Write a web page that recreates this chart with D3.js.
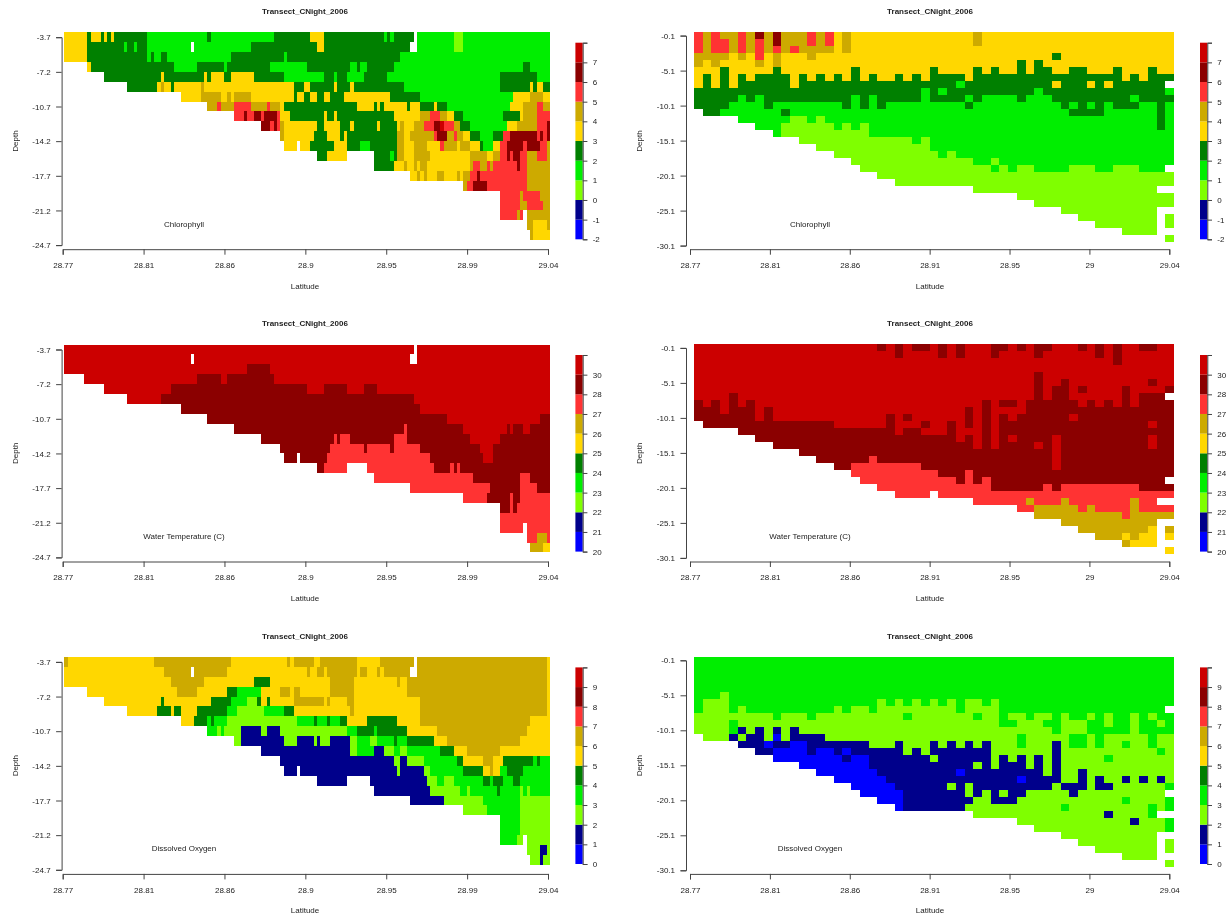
<!DOCTYPE html>
<html>
<head>
<meta charset="utf-8">
<script src="https://cdn.jsdelivr.net/npm/d3@7"></script>
<style>
body { margin: 0; background: #fff; }
svg { display: block; filter: blur(0.45px); }
text { font-family: "Liberation Sans", Arial, sans-serif; fill: #222; }
</style>
</head>
<body>
<svg id="canvas" width="1230" height="917"></svg>
<script>
// colour band index -> colour, same ten bands in all panels
let bandColors = ['#0000ff', '#00008b', '#7fff00', '#00ee00', '#008000', '#ffd700', '#cdaa00', '#ff3333', '#8b0000', '#cc0000']

let chlBreaks = ['-2', '-1', '0', '1', '2', '3', '4', '5', '6', '7', '']
let tempBreaks = ['20', '21', '22', '23', '24', '25', '26', '27', '28', '30', '']
let doBreaks = ['0', '1', '2', '3', '4', '5', '6', '7', '8', '9', '']

let latLabelsLeft = ['28.77', '28.81', '28.86', '28.9', '28.95', '28.99', '29.04']
let latLabelsRight = ['28.77', '28.81', '28.86', '28.91', '28.95', '29', '29.04']
let depthTicksLeft = [-3.7, -7.2, -10.7, -14.2, -17.7, -21.2, -24.7]
let depthTicksRight = [-0.1, -5.1, -10.1, -15.1, -20.1, -25.1, -30.1]

// each row = [startBin, band, nextBin, band, ..., endBin], band -1 is no data
// rows go down 1 m at a time from the top depth tick
let chlLeft = [
  [0,5,7,4,8,5,11,4,12,5,13,4,14,5,15,4,25,3,43,4,44,3,63,4,74,5,78,4,96,3,97,4,98,3,99,4,105,-1,106,3,117,2,120,3,146],
  [0,5,7,4,18,3,19,4,21,3,22,4,25,3,38,-1,39,3,56,4,76,5,78,4,104,-1,106,3,117,2,120,3,146],
  [0,5,7,4,25,3,26,4,27,3,29,4,31,3,50,4,66,3,67,4,101,3,146],
  [7,5,8,4,33,3,40,4,48,3,49,4,62,3,73,4,86,3,88,4,89,3,91,4,99,3,138,4,140,3,146],
  [12,4,29,5,30,4,42,5,43,4,44,5,48,4,50,5,57,4,66,3,78,4,81,3,82,4,85,3,90,4,97,3,131,4,142,3,146],
  [19,4,28,5,29,6,30,5,32,4,33,5,41,6,42,5,69,4,72,5,74,4,81,5,82,4,86,5,87,4,102,3,131,4,140,5,141,4,142,5,144,4,146],
  [35,5,41,6,47,5,49,6,50,5,51,6,56,5,69,4,70,5,72,4,74,5,76,4,78,5,80,4,84,5,98,4,107,3,135,5,140,6,144,5,146],
  [43,6,46,7,47,6,51,7,56,6,61,7,62,6,65,5,66,4,88,5,93,4,94,5,95,4,96,5,103,4,104,5,107,4,111,5,112,4,115,3,134,5,138,6,142,7,144,6,146],
  [51,7,54,8,55,7,57,8,59,7,60,8,64,7,65,5,68,4,78,5,79,4,81,5,82,4,99,5,107,6,110,7,113,6,115,5,117,4,120,3,132,4,137,5,138,6,142,7,146],
  [59,8,62,7,63,8,64,7,65,6,66,5,76,4,78,5,83,4,86,5,87,4,94,5,95,4,100,5,101,6,102,5,105,6,108,7,111,8,113,9,114,7,117,6,119,4,122,3,133,5,136,6,142,7,145,8,146],
  [65,6,66,5,75,4,79,5,83,4,84,5,85,4,100,6,102,5,104,6,111,7,112,8,115,6,117,7,118,6,120,5,122,4,125,3,129,4,132,7,134,8,142,7,143,8,144,7,145,8,146],
  [66,5,70,-1,71,5,74,4,81,5,85,4,89,3,92,4,100,6,102,5,105,6,109,5,113,7,114,6,118,5,119,6,122,5,125,4,126,3,129,5,131,7,133,8,138,7,139,8,143,7,145,6,146],
  [76,4,79,5,85,-1,93,4,98,3,99,4,100,6,102,5,105,6,110,5,122,6,127,5,129,6,131,7,133,8,134,7,135,8,137,7,139,6,142,7,145,6,146],
  [93,4,99,5,102,6,103,5,105,6,106,5,107,6,109,5,122,6,123,7,125,6,127,7,128,6,129,7,136,8,137,7,139,6,146],
  [104,5,106,6,107,5,108,6,109,5,112,6,114,5,118,6,119,5,120,6,122,7,124,8,125,7,139,6,146],
  [120,6,121,7,123,8,127,7,139,6,146],
  [131,7,137,6,138,7,143,6,146],
  [131,7,137,6,139,7,144,6,146],
  [131,7,136,6,137,7,138,-1,139,6,146],
  [139,6,141,5,145,6,146],
  [140,6,141,5,146]
]

let tempLeft = [
  [0,9,105,-1,106,9,146],
  [0,9,38,-1,39,9,104,-1,106,9,146],
  [0,9,55,8,62,9,146],
  [6,9,40,8,47,9,49,8,63,9,146],
  [12,9,32,8,73,9,78,8,85,9,90,8,94,9,146],
  [19,9,29,8,105,9,146],
  [35,8,107,9,146],
  [43,8,115,9,143,8,146],
  [51,8,102,7,103,8,120,9,133,8,134,9,135,8,138,9,140,8,146],
  [59,8,81,7,82,8,83,7,86,8,99,7,103,8,122,9,131,8,146],
  [65,8,80,7,90,8,91,7,98,8,99,7,107,8,125,9,129,8,146],
  [66,8,70,-1,71,8,79,7,110,8,126,9,129,8,146],
  [76,8,78,7,85,-1,91,7,111,8,116,7,117,8,118,7,119,8,146],
  [93,7,123,8,137,7,140,8,146],
  [104,7,128,8,137,7,142,8,146],
  [120,7,127,8,134,7,135,8,137,7,146],
  [131,8,134,7,135,8,136,7,146],
  [131,7,146],
  [131,7,138,-1,139,7,146],
  [139,7,142,6,145,7,146],
  [140,6,144,5,146]
]

let doLeft = [
  [0,6,1,5,27,6,50,5,67,6,68,5,69,6,75,5,77,6,88,5,95,6,105,-1,106,6,145,5,146],
  [0,5,30,6,38,-1,39,6,49,5,73,6,74,5,76,6,78,5,79,6,88,5,89,6,91,5,94,6,95,5,96,6,104,-1,106,6,145,5,146],
  [0,5,32,6,42,5,57,4,62,5,80,6,87,5,100,6,101,5,103,6,145,5,146],
  [7,5,34,6,40,5,49,4,52,3,59,5,65,6,68,5,69,6,71,5,80,6,87,5,103,6,145,5,146],
  [12,5,29,4,30,5,44,4,50,3,55,2,58,4,59,5,61,4,62,5,69,6,78,5,79,6,80,5,85,6,87,5,107,6,145,5,146],
  [19,5,28,4,32,5,33,4,35,5,40,4,49,3,52,2,60,3,66,4,69,5,86,6,87,5,107,6,145,5,146],
  [35,5,39,4,43,3,44,4,45,3,49,2,70,3,75,4,76,3,79,4,80,3,83,4,85,5,91,4,100,5,107,6,140,5,146],
  [43,3,46,2,47,3,48,2,53,1,59,2,61,1,65,2,85,3,88,4,93,3,94,4,103,5,112,6,139,5,146],
  [51,2,53,1,66,2,70,1,75,2,76,1,77,2,80,1,86,2,88,3,92,2,94,3,99,4,100,3,103,4,111,5,115,6,137,5,146],
  [59,1,86,2,88,3,93,1,96,2,99,3,101,2,103,3,113,4,117,5,121,6,131,5,146],
  [65,1,99,2,101,1,103,2,108,3,118,4,120,5,126,6,129,5,132,4,141,3,142,4,143,3,146],
  [66,1,70,-1,71,1,100,2,101,1,108,2,110,3,120,4,126,5,128,6,129,5,131,3,133,4,138,3,146],
  [76,1,85,-1,92,1,109,2,112,3,114,2,117,3,126,4,128,3,129,4,132,3,135,4,137,3,146],
  [93,1,110,2,119,3,121,2,122,3,130,4,131,3,137,2,138,3,139,2,140,3,146],
  [104,1,114,2,126,3,137,2,146],
  [120,2,127,3,137,2,146],
  [131,3,137,2,146],
  [131,3,137,2,146],
  [131,3,136,2,138,-1,139,2,146],
  [139,2,143,1,145,2,146],
  [140,2,143,1,144,2,146]
]

let chlRight = [
  [0,7,1,6,2,7,3,6,5,7,6,6,7,8,8,6,9,8,10,6,13,7,14,6,15,7,16,5,17,6,18,5,32,6,33,5,55],
  [0,7,1,6,2,7,4,6,5,7,6,6,7,7,8,6,9,8,10,6,13,7,14,6,15,7,16,5,17,6,18,5,32,6,33,5,55],
  [0,7,1,6,2,7,4,6,5,7,6,6,7,7,8,6,9,7,10,6,11,7,12,6,16,5,17,6,18,5,55],
  [0,6,4,5,5,6,6,5,7,7,8,5,9,6,10,5,13,6,14,5,41,4,42,5,55],
  [0,6,1,5,2,6,3,5,7,6,8,5,9,6,10,5,37,4,38,5,39,4,40,5,55],
  [0,5,3,4,4,5,9,4,10,5,18,4,19,5,27,4,28,5,32,4,33,5,34,4,35,5,37,4,38,5,39,4,41,5,43,4,45,5,48,4,49,5,52,4,53,5,55],
  [0,5,1,4,2,5,3,4,4,5,5,4,6,5,7,4,11,5,12,4,13,5,14,4,15,5,16,4,17,5,18,4,19,5,20,4,21,5,23,4,24,5,25,4,26,5,27,4,31,5,32,4,49,5,50,4,51,5,52,4,55],
  [0,5,1,4,2,5,3,4,4,5,5,4,11,5,12,4,30,3,31,4,41,5,42,4,45,5,46,4,47,5,48,4,54,-1,55],
  [0,4,26,3,27,4,28,3,29,4,39,3,40,4,54,3,55],
  [0,4,5,3,6,4,7,3,8,4,18,3,19,4,20,3,21,4,26,3,27,4,31,3,32,4,33,3,37,4,38,3,41,4,50,3,51,4,55],
  [0,4,4,3,8,4,9,3,17,4,18,3,19,4,20,3,21,4,22,3,31,4,32,3,42,4,43,3,44,4,45,3,46,4,47,3,48,4,51,3,53,4,54,3,55],
  [1,4,3,3,10,4,11,3,43,4,47,3,53,4,54,3,55],
  [5,3,11,2,13,3,14,2,15,3,53,4,54,3,55],
  [7,3,10,2,16,3,17,2,18,3,19,2,20,3,53,4,54,3,55],
  [9,3,10,2,20,3,55],
  [12,2,25,3,26,2,27,3,55],
  [14,2,27,3,55],
  [16,2,28,3,29,2,30,3,55],
  [18,2,32,3,34,2,35,3,55],
  [19,2,34,3,35,2,36,3,37,2,39,3,43,2,46,3,48,2,51,3,54,-1,55],
  [21,2,55],
  [23,2,55],
  [32,2,53,-1,55],
  [37,2,55],
  [39,2,55],
  [42,2,53],
  [44,2,53,-1,54,2,55],
  [46,2,53,-1,54,2,55],
  [49,2,53],
  [54,2,55]
]

let tempRight = [
  [0,9,21,8,22,9,23,8,24,9,25,8,27,9,28,8,29,9,30,8,31,9,34,8,36,9,37,8,38,9,39,8,41,9,44,8,45,9,46,8,47,9,48,8,49,9,51,8,53,9,55],
  [0,9,23,8,24,9,28,8,29,9,30,8,31,9,34,8,35,9,39,8,40,9,46,8,47,9,48,8,49,9,55],
  [0,9,48,8,49,9,55],
  [0,9,55],
  [0,9,39,8,40,9,55],
  [0,9,39,8,40,9,42,8,43,9,52,8,53,9,55],
  [0,9,39,8,40,9,41,8,43,9,44,8,45,9,49,8,50,9,54,8,55],
  [0,9,4,8,5,9,39,8,40,9,41,8,43,9,49,8,50,9,51,8,54,-1,55],
  [0,8,1,9,2,8,3,9,4,8,5,9,6,8,7,9,33,8,34,9,35,8,37,9,38,8,44,9,45,8,46,9,47,8,48,9,49,8,50,9,51,8,55],
  [0,8,3,9,4,8,7,9,8,8,9,9,31,8,32,9,33,8,34,9,38,8,55],
  [0,8,7,9,8,8,9,9,22,8,23,9,24,8,25,9,31,8,32,9,33,8,34,9,35,8,36,9,37,8,43,9,44,8,55],
  [1,8,16,9,22,8,23,9,26,8,27,9,29,8,30,9,31,8,32,9,33,8,34,9,35,8,52,9,53,8,55],
  [5,8,23,9,24,8,26,9,29,8,30,9,33,8,34,9,35,8,55],
  [7,8,30,9,31,8,32,9,33,8,34,9,35,8,36,9,37,8,41,9,42,8,52,9,53,8,55],
  [9,8,32,9,33,8,34,9,35,8,39,9,40,8,41,9,42,8,52,9,53,8,55],
  [12,8,41,9,42,8,55],
  [14,8,20,7,21,8,41,9,42,8,55],
  [16,8,18,7,26,8,41,9,42,8,55],
  [18,7,28,8,31,7,32,8,55],
  [19,7,30,8,31,7,32,8,33,7,34,8,54,-1,55],
  [21,7,34,8,40,7,41,8,42,7,51,8,55],
  [23,7,27,-1,28,7,55],
  [32,7,38,6,39,7,42,6,43,7,50,6,51,7,53,-1,55],
  [37,7,39,6,44,7,45,6,46,7,50,6,51,7,55],
  [39,6,49,7,50,6,55],
  [42,6,53],
  [44,6,52,5,53,-1,54,6,55],
  [46,6,49,5,50,6,51,5,53,-1,54,5,55],
  [49,6,50,5,53],
  [54,5,55]
]

let doRight = [
  [0,3,55],
  [0,3,55],
  [0,3,55],
  [0,3,55],
  [0,3,55],
  [0,3,3,2,4,3,55],
  [0,3,1,2,4,3,21,2,22,3,23,2,24,3,25,2,26,3,27,2,28,3,29,2,30,3,31,2,33,3,34,2,35,3,55],
  [0,3,1,2,4,3,5,2,6,3,16,2,17,3,18,2,20,3,21,2,30,3,31,2,35,3,54,-1,55],
  [0,2,9,3,10,2,13,3,14,2,24,3,25,2,32,3,33,2,35,3,36,2,38,3,39,2,41,3,42,2,43,3,45,2,46,3,47,2,48,3,50,2,51,3,52,2,53,3,55],
  [0,2,4,3,5,2,35,3,37,2,40,3,42,2,45,3,47,2,48,3,50,2,51,3,53,2,54,3,55],
  [0,2,4,3,5,1,6,2,7,1,8,2,9,1,10,2,11,1,12,2,41,3,42,2,45,3,50,2,51,3,55],
  [1,2,4,1,5,2,6,1,8,2,9,0,10,2,11,1,15,2,37,3,38,2,43,3,45,2,46,3,47,2,52,3,53,2,55],
  [5,1,8,0,9,1,11,0,13,1,20,2,23,1,24,2,27,1,28,2,29,1,30,2,31,1,32,2,33,1,34,2,37,3,38,2,41,1,42,2,43,3,45,2,46,3,47,2,49,3,50,2,52,3,53,2,55],
  [7,1,9,0,13,1,14,0,16,1,17,0,18,1,24,2,25,1,26,2,27,1,34,2,41,1,42,2,53,3,54,2,55],
  [9,0,17,1,18,0,20,1,27,2,28,1,34,2,35,1,36,2,37,1,38,2,39,1,40,2,41,1,42,2,47,3,48,2,55],
  [12,0,20,1,32,2,33,1,34,2,35,1,38,2,39,1,40,2,41,1,42,2,55],
  [14,0,21,1,30,0,31,1,40,2,41,1,42,2,44,1,45,2,55],
  [16,0,22,1,37,0,38,1,42,2,44,1,45,2,46,1,47,2,49,1,50,2,51,1,52,2,53,1,54,2,55],
  [18,0,23,1,29,2,30,1,31,2,32,1,41,2,42,1,45,2,46,1,48,2,54,3,55],
  [19,0,24,1,31,2,32,1,33,2,34,1,35,2,36,1,38,2,43,1,44,2,54,-1,55],
  [21,0,24,1,32,2,34,1,37,2,49,3,50,2,54,3,55],
  [23,0,24,1,31,2,42,3,43,2,52,3,53,2,54,3,55],
  [32,2,47,1,48,2,52,3,53,-1,55],
  [37,2,50,1,51,2,54,3,55],
  [39,2,54,3,55],
  [42,2,53],
  [44,2,53,-1,54,2,55],
  [46,2,53,-1,54,2,55],
  [49,2,53],
  [54,2,55]
]

let canvas = d3.select('#canvas')
let bandColor = d3.scaleOrdinal(d3.range(10), bandColors)

let sideLeft = {
    bins: 146, binRange: [64.2, 550], axisX: 61.6, latRange: [62.7, 548],
    depths: depthTicksLeft, depthRange: [37.2, 245.1], labels: latLabelsLeft,
    barX: 575.4, titleX: 305, noteX: 184, depthLabelX: 15, latLabelX: 305
}
let sideRight = {
    bins: 55, binRange: [694, 1174], axisX: 686, latRange: [690, 1169.3],
    depths: depthTicksRight, depthRange: [35.6, 245.6], labels: latLabelsRight,
    barX: 1200, titleX: 930, noteX: 810, depthLabelX: 639, latLabelX: 930
}

let drawPanel = (side, rows, breaks, note, dy) => {
    let g = canvas.append('g').attr('transform', 'translate(0,' + dy + ')')

    let x = d3.scaleLinear().domain([0, side.bins]).range(side.binRange)
    let y = d3.scaleLinear().domain([side.depths[0], side.depths[6]]).range(side.depthRange)
    let latScale = d3.scalePoint().domain(side.labels).range(side.latRange)

    // snap the cell edges to whole pixels so neighbouring rects have no seams
    let px = (v) => Math.round(v + dy) - dy
    let rowTop = (r) => px(y(side.depths[0] - r + 0.5))

    // rows of runs -> one rect per run
    let cells = []
    rows.forEach((row, r) => {
        for (let i = 0; i + 2 < row.length; i += 2) {
            if (row[i + 1] >= 0) {
                cells.push({ r: r, from: row[i], to: row[i + 2], band: row[i + 1] })
            }
        }
    })

    g.append('g').attr('shape-rendering', 'crispEdges').selectAll('rect')
        .data(cells)
        .enter()
        .append('rect')
        .attr('x', (d) => Math.round(x(d.from)))
        .attr('width', (d) => Math.round(x(d.to)) - Math.round(x(d.from)))
        .attr('y', (d) => rowTop(d.r))
        .attr('height', (d) => rowTop(d.r + 1) - rowTop(d.r))
        .attr('fill', (d) => bandColor(d.band))

    let yAxis = d3.axisLeft(y).tickValues(side.depths).tickSizeOuter(0).tickSize(5.5).tickPadding(5.5)
    let xAxis = d3.axisBottom(latScale).tickSizeOuter(0).tickSize(5.5).tickPadding(7.5)

    let ya = g.append('g').attr('transform', 'translate(' + side.axisX + ',0)').call(yAxis)
    let xa = g.append('g').attr('transform', 'translate(0,249.2)').call(xAxis)
    ya.selectAll('text').text((d) => d3.format('.1f')(d).replace('−', '-'))
    ;[ya, xa].forEach((a) => {
        a.selectAll('path,line').attr('stroke', '#444').attr('stroke-width', 1)
        a.selectAll('text').attr('font-size', 8).attr('fill', '#222')
    })

    // colour bar
    let barTop = 42.7, barBottom = 239.3
    let barScale = d3.scaleLinear().domain([0, 10]).range([barBottom, barTop])
    g.append('g').selectAll('rect')
        .data(d3.range(10))
        .enter()
        .append('rect')
        .attr('x', side.barX)
        .attr('width', 7.3)
        .attr('y', (d) => barScale(d + 1))
        .attr('height', barScale(0) - barScale(1))
        .attr('fill', (d) => bandColor(d))
    let barAxis = d3.axisRight(barScale).tickValues(d3.range(11)).tickSizeOuter(0).tickSize(4.7).tickPadding(5.3).tickFormat((d) => breaks[d])
    let ba = g.append('g').attr('transform', 'translate(' + (side.barX + 7.3) + ',0)').call(barAxis)
    ba.selectAll('path,line').attr('stroke', '#444').attr('stroke-width', 1)
    ba.selectAll('text').attr('font-size', 8).attr('fill', '#222')

    g.append('text').attr('x', side.titleX).attr('y', 14).attr('text-anchor', 'middle')
        .attr('font-size', 8).attr('font-weight', 'bold').text('Transect_CNight_2006')
    g.append('text').attr('x', side.latLabelX).attr('y', 288.7).attr('text-anchor', 'middle')
        .attr('font-size', 8).text('Latitude')
    g.append('text').attr('x', side.noteX).attr('y', 226.8).attr('text-anchor', 'middle')
        .attr('font-size', 8).text(note)
    g.append('text').attr('transform', 'translate(' + (side.depthLabelX + 3) + ',141) rotate(-90)')
        .attr('text-anchor', 'middle').attr('font-size', 8).text('Depth')
}

drawPanel(sideLeft, chlLeft, chlBreaks, 'Chlorophyll', 0)
drawPanel(sideRight, chlRight, chlBreaks, 'Chlorophyll', 0)
drawPanel(sideLeft, tempLeft, tempBreaks, 'Water Temperature (C)', 312.3)
drawPanel(sideRight, tempRight, tempBreaks, 'Water Temperature (C)', 312.3)
drawPanel(sideLeft, doLeft, doBreaks, 'Dissolved Oxygen', 624.7)
drawPanel(sideRight, doRight, doBreaks, 'Dissolved Oxygen', 624.7)
</script>
</body>
</html>
